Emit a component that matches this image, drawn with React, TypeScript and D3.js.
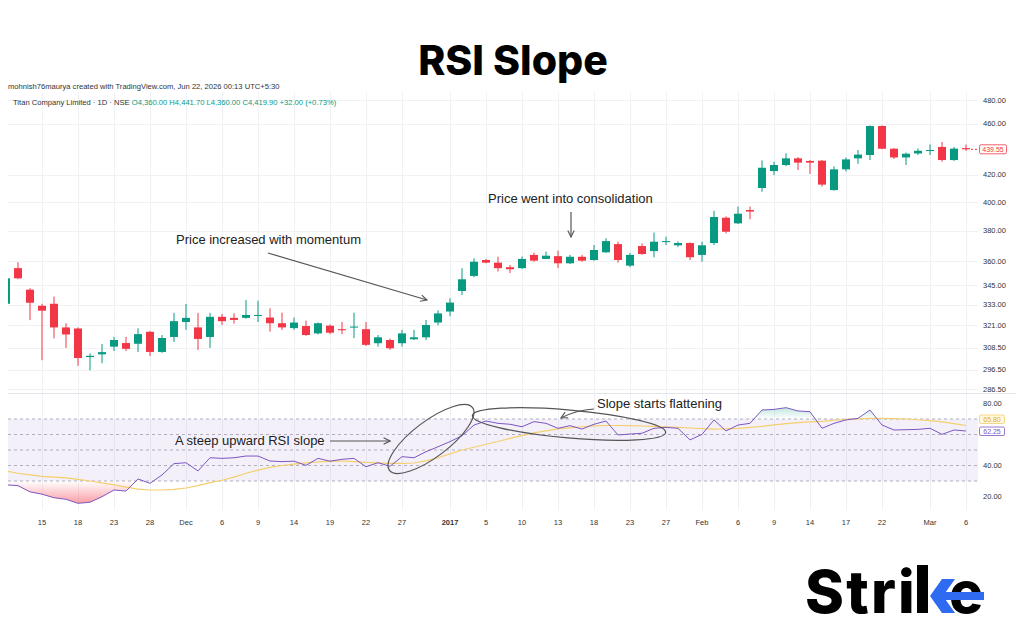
import React from "react";
import * as d3 from "d3";

// Trading sessions shown on the chart (NSE, daily)
const dates: string[] = [
  "2016-11-09", "2016-11-10", "2016-11-11", "2016-11-15", "2016-11-16", "2016-11-17", "2016-11-18",
  "2016-11-21", "2016-11-22", "2016-11-23", "2016-11-24", "2016-11-25", "2016-11-28", "2016-11-29",
  "2016-11-30", "2016-12-01", "2016-12-02", "2016-12-05", "2016-12-06", "2016-12-07", "2016-12-08",
  "2016-12-09", "2016-12-12", "2016-12-13", "2016-12-14", "2016-12-15", "2016-12-16", "2016-12-19",
  "2016-12-20", "2016-12-21", "2016-12-22", "2016-12-23", "2016-12-26", "2016-12-27", "2016-12-28",
  "2016-12-29", "2016-12-30", "2017-01-02", "2017-01-03", "2017-01-04", "2017-01-05", "2017-01-06",
  "2017-01-09", "2017-01-10", "2017-01-11", "2017-01-12", "2017-01-13", "2017-01-16", "2017-01-17",
  "2017-01-18", "2017-01-19", "2017-01-20", "2017-01-23", "2017-01-24", "2017-01-25", "2017-01-27",
  "2017-01-30", "2017-01-31", "2017-02-01", "2017-02-02", "2017-02-03", "2017-02-06", "2017-02-07",
  "2017-02-08", "2017-02-09", "2017-02-10", "2017-02-13", "2017-02-14", "2017-02-15", "2017-02-16",
  "2017-02-17", "2017-02-20", "2017-02-21", "2017-02-22", "2017-02-23", "2017-02-27", "2017-02-28",
  "2017-03-01", "2017-03-02", "2017-03-03", "2017-03-06",
];

const opens: number[] = [
  333.6, 355.5, 342.1, 332.4, 333.6, 319.8, 319.2, 303.3, 304.8, 309, 311, 310.6, 317.3, 306.1,
  314.4, 322.9, 319.8, 314.4, 325.9, 325.3, 325.3, 326.4, 325.5, 322.2, 319.4, 320.6, 316.4, 320.8,
  318.8, 319.7, 318.8, 310.9, 312.7, 310.9, 313.1, 314.2, 322.6, 329, 341.3, 350.6, 360.7, 359,
  356.1, 355.5, 364, 361.4, 363.2, 358.6, 362.8, 360.7, 365.7, 371.1, 357.1, 369.8, 366.5, 372.4,
  370.3, 371.8, 364, 371.8, 389, 385.1, 394.4, 410.2, 422.8, 427.4, 432.5, 430.5, 430.7, 408.7,
  424.1, 432.5, 435.1, 458.2, 440, 433.2, 436.3, 438.2, 441.4, 431.2, 440.5,
];
const highs: number[] = [
  349.6, 359.3, 343, 333.6, 337.9, 322.2, 319.8, 305.3, 310.5, 314.4, 314.4, 319.3, 317.8, 315.5,
  328.2, 333.5, 328.2, 328.2, 327.6, 328, 335.9, 335.4, 330.9, 328.3, 325.5, 323.7, 322.6, 321.5,
  322.9, 328.3, 322.9, 315.5, 313.5, 318.4, 318.4, 324.1, 329.7, 336.9, 355.4, 361.8, 361.4, 362.9,
  357.5, 362.9, 365.5, 366.2, 366.8, 364, 364, 370.5, 375, 372.7, 365.3, 371.6, 378.8, 376,
  372.8, 372.2, 372.7, 393.8, 389.9, 396.8, 396.8, 430.9, 429.9, 436.4, 433.5, 431.2, 431.2, 426.4,
  433.2, 439, 458.7, 458.7, 440.5, 437, 440.2, 443.4, 445.3, 441.4, 443.3,
];
const lows: number[] = [
  333, 348.6, 324, 301.6, 313.6, 308.3, 298.6, 296.2, 300, 306.6, 306.6, 306.1, 303.9, 305.6,
  311.6, 318.4, 307.2, 308.3, 321.2, 322, 324.8, 322.9, 317.4, 318.4, 318.4, 315, 315.8, 316,
  316, 313.7, 309.4, 309, 307.2, 309, 312.7, 312.7, 321, 326.2, 338.9, 349.8, 358.6, 353.4,
  352.4, 355, 359.6, 361.2, 355.5, 358.1, 359.6, 360.2, 365.3, 359, 356.1, 364, 362.5, 370.5,
  369.3, 360.7, 359.6, 370.5, 378.3, 384.7, 388, 407.5, 419.8, 426.4, 423.6, 420.6, 411.2, 408.2,
  422.5, 428.3, 431.2, 439.6, 432, 427.4, 435.1, 435.1, 429.9, 430.5, 438.3,
];
const closes: number[] = [
  349.1, 349.1, 334.2, 329.5, 319.8, 315.8, 302.8, 304, 306, 312.7, 307.8, 316, 306.1, 313.8,
  323.4, 325.3, 313.3, 325.9, 323.4, 324.1, 327, 327, 322.2, 319.8, 322.6, 315.5, 322.2, 316.8,
  318.2, 320.3, 310, 314.2, 308.1, 316.4, 314.2, 321.2, 327.9, 334.3, 348.5, 359.6, 359, 355.5,
  354.8, 361.4, 360.3, 363.5, 358.6, 362.8, 360.3, 367.2, 373.1, 360.7, 364, 364.6, 372.7, 373.1,
  371.8, 362.5, 370.3, 389.5, 379.4, 391.8, 393.3, 425.3, 427.4, 432.5, 429.2, 429.2, 412.7, 424.1,
  431.7, 435.4, 458.2, 440, 433.2, 436.1, 438.4, 439, 431.2, 440.1, 439.55,
];

// RSI (14) and its moving average
const rsi: number[] = [
  27.5, 27, 23, 21.5, 19.2, 18.2, 15.6, 16.3, 19.9, 24.2, 23.5, 31.3, 28.5, 33.9, 41.2, 41.8, 36.5,
  45, 44.6, 45, 46.1, 46.1, 42.9, 42.5, 42.8, 40.1, 44.6, 42.8, 44, 44.6, 39.2, 41.8, 39.5, 45.7,
  45, 48.9, 52.1, 55.4, 59.2, 66.1, 68.7, 67.2, 66.6, 65, 68.3, 67.2, 64, 65.7, 63.5, 66.6, 68.7,
  59.7, 60.3, 60.8, 64, 64.6, 64, 56.5, 60.1, 69.4, 62.3, 66.1, 67.2, 75.8, 76.2, 77.3, 75.2, 74.7,
  64, 67.2, 69.4, 70.4, 75.8, 66.1, 62.9, 63.1, 63.3, 64, 60.1, 62.9, 62.25,
];
const rsiMa: number[] = [
  36.5, 35, 34, 33, 32.5, 32, 31, 30, 28.8, 27.5, 26, 24.8, 24.2, 24.2, 24.6, 25.5, 27, 29, 30.5,
  32.5, 35, 37, 38.8, 40, 40.9, 41.7, 42.3, 42.7, 42.9, 42.5, 42, 41.7, 41.4, 41.4, 41.6, 43, 45,
  47.5, 50, 51.8, 53.7, 55.5, 57.5, 59.3, 61, 62.3, 63.6, 64.3, 65, 65.6, 65.8, 65.8, 65.7, 65.5,
  65.2, 65, 64.6, 64.2, 63.8, 63.5, 63.6, 64, 64.6, 65.3, 66.2, 67, 67.6, 68.1, 68.5, 69.2, 69.8,
  70.1, 70.4, 70.4, 70.3, 70, 69.5, 69, 68.2, 67, 65.8,
];

// Time axis labels: [session, label]
const timeTicks: [string, string][] = [
  ["2016-11-15", "15"], ["2016-11-18", "18"], ["2016-11-23", "23"], ["2016-11-28", "28"],
  ["2016-12-01", "Dec"], ["2016-12-06", "6"], ["2016-12-09", "9"], ["2016-12-14", "14"],
  ["2016-12-19", "19"], ["2016-12-22", "22"], ["2016-12-27", "27"], ["2017-01-02", "2017"],
  ["2017-01-05", "5"], ["2017-01-10", "10"], ["2017-01-13", "13"], ["2017-01-18", "18"],
  ["2017-01-23", "23"], ["2017-01-27", "27"], ["2017-02-01", "Feb"], ["2017-02-06", "6"],
  ["2017-02-09", "9"], ["2017-02-14", "14"], ["2017-02-17", "17"], ["2017-02-22", "22"],
  ["2017-03-01", "Mar"], ["2017-03-06", "6"],
];
const boldTimeLabels = ["2017"];

const priceTicks: number[] = [480, 460, 420, 400, 380, 360, 345, 333, 321, 308.5, 296.5, 286.5];
const rsiTicks: number[] = [80, 40, 20];
const rsiLevels: number[] = [70, 60, 50, 40, 30];
const lastPrice = 439.55;
const lastRsi = 62.25;
const lastRsiMa = 65.8;

const W = 1024;
const H = 640;
const LEFT = 8;
const RIGHT = 978;
const PRICE_TOP = 78;
const PRICE_BOTTOM = 392;
const RSI_TOP = 394;
const RSI_BOTTOM = 510;

const UP = "#089981";
const DOWN = "#f23645";
const RSI_COLOR = "#7e57c2";
const MA_COLOR = "#f5cf6e";
const ANNOT = "#555555";
const AXIS_FONT = "'Liberation Sans', Arial, sans-serif";
const NOTE_FONT = "'Liberation Sans', Arial, sans-serif";
const BRAND_FONT = "Inter, 'Open Sans', sans-serif";

export default function App() {
  const x = d3.scalePoint<string>().domain(dates).range([6, 966]);
  const yPrice = d3.scaleLog().domain([286.5, 480]).range([389, 100]);
  const yRsi = d3.scaleLinear().domain([30, 70]).range([481, 419]);

  const xi = (i: number) => x(dates[i]) as number;

  const rsiLine = d3.line<number>().x((_, i) => xi(i)).y((d) => yRsi(d))(rsi) || "";
  const maLine = d3.line<number>().x((_, i) => xi(i)).y((d) => yRsi(d))(rsiMa) || "";
  const lowArea =
    d3.area<number>().x((_, i) => xi(i)).y0(yRsi(30)).y1((d) => yRsi(d))(rsi) || "";
  const highArea =
    d3.area<number>().x((_, i) => xi(i)).y0(yRsi(70)).y1((d) => yRsi(d))(rsi) || "";

  const bodyW = 8;

  return (
    <div style={{ position: "absolute", left: 0, top: 0, width: W, height: H }}>
      <svg width={W} height={H} viewBox={`0 0 ${W} ${H}`} style={{ display: "block" }}>
        <defs>
          <clipPath id="pricePane">
            <rect x={LEFT} y={PRICE_TOP} width={RIGHT - LEFT} height={PRICE_BOTTOM - PRICE_TOP} />
          </clipPath>
          <clipPath id="rsiPane">
            <rect x={LEFT} y={RSI_TOP} width={RIGHT - LEFT} height={RSI_BOTTOM - RSI_TOP} />
          </clipPath>
          <clipPath id="belowLow">
            <rect x={LEFT} y={yRsi(30)} width={RIGHT - LEFT} height={RSI_BOTTOM - yRsi(30)} />
          </clipPath>
          <clipPath id="aboveHigh">
            <rect x={LEFT} y={RSI_TOP} width={RIGHT - LEFT} height={yRsi(70) - RSI_TOP} />
          </clipPath>
          <linearGradient id="lowGrad" gradientUnits="userSpaceOnUse" x1={0} y1={yRsi(30)} x2={0} y2={yRsi(0)}>
            <stop offset="0" stopColor={DOWN} stopOpacity={0} />
            <stop offset="1" stopColor={DOWN} stopOpacity={1} />
          </linearGradient>
          <linearGradient id="highGrad" gradientUnits="userSpaceOnUse" x1={0} y1={yRsi(70)} x2={0} y2={yRsi(100)}>
            <stop offset="0" stopColor={UP} stopOpacity={0} />
            <stop offset="1" stopColor={UP} stopOpacity={1} />
          </linearGradient>
          <marker id="arrowHead" viewBox="0 0 10 10" refX="9" refY="5" markerWidth="8" markerHeight="8"
            markerUnits="userSpaceOnUse" orient="auto">
            <path d="M1,1 L9,5 L1,9" fill="none" stroke={ANNOT} strokeWidth={1.4} />
          </marker>
        </defs>

        <rect x={0} y={0} width={W} height={H} fill="#ffffff" />

        {/* Title */}
        <text x={513} y={75} textAnchor="middle" fontFamily={BRAND_FONT}
          fontWeight={800} fontSize={41} fill="#000000">
          RSI Slope
        </text>

        {/* Grid */}
        <g stroke="#f0f1f4" strokeWidth={1}>
          {timeTicks.map(([d]) => (
            <line key={"vg" + d} x1={Math.round(x(d) as number) + 0.5} x2={Math.round(x(d) as number) + 0.5}
              y1={PRICE_TOP + 14} y2={RSI_BOTTOM} />
          ))}
          {priceTicks.map((p) => (
            <line key={"hg" + p} x1={LEFT} x2={RIGHT} y1={Math.round(yPrice(p)) + 0.5} y2={Math.round(yPrice(p)) + 0.5} />
          ))}
        </g>

        {/* Header lines */}
        <text x={8} y={89} fontFamily={AXIS_FONT} fontSize={7.6} fill="#333333">
          mohnish76maurya created with TradingView.com, Jun 22, 2026 00:13 UTC+5:30
        </text>
        <text x={13} y={105} fontFamily={AXIS_FONT} fontSize={7.6} fill="#333333">
          Titan Company Limited · 1D · NSE{"  "}
          <tspan fill={UP}>O4,360.00{"  "}H4,441.70{"  "}L4,360.00{"  "}C4,419.90{"  "}+32.00 (+0.73%)</tspan>
        </text>

        {/* Pane separator */}
        <line x1={LEFT} x2={RIGHT + 38} y1={393.5} y2={393.5} stroke="#e3e5ea" />

        {/* Candles */}
        <g clipPath="url(#pricePane)">
          {dates.map((d, i) => {
            const o = opens[i];
            const c = closes[i];
            const color = c >= o ? UP : DOWN;
            const cx = xi(i);
            const top = yPrice(Math.max(o, c));
            const bot = yPrice(Math.min(o, c));
            return (
              <g key={d}>
                <line x1={cx} x2={cx} y1={yPrice(highs[i])} y2={yPrice(lows[i])} stroke={color} strokeWidth={1} />
                <rect x={cx - bodyW / 2} y={top} width={bodyW} height={Math.max(1, bot - top)} fill={color} />
              </g>
            );
          })}
        </g>

        {/* Last price line and label */}
        <line x1={xi(dates.length - 1) + 5} x2={RIGHT} y1={yPrice(lastPrice)} y2={yPrice(lastPrice)}
          stroke={DOWN} strokeDasharray="2,2" strokeWidth={1} />
        <rect x={979.5} y={yPrice(lastPrice) - 4.5} width={27} height={9} rx={1.5} fill="#ffffff" stroke={DOWN} strokeWidth={0.8} />
        <text x={993} y={yPrice(lastPrice) + 2.6} textAnchor="middle" fontFamily={AXIS_FONT} fontSize={7} fill={DOWN}>
          {lastPrice.toFixed(2)}
        </text>

        {/* Price axis labels */}
        {priceTicks.map((p) => (
          <text key={"pt" + p} x={983} y={yPrice(p) + 2.6} fontFamily={AXIS_FONT} fontSize={7.5} fill="#333333">
            {p.toFixed(2)}
          </text>
        ))}

        {/* RSI pane */}
        <g clipPath="url(#rsiPane)">
          <rect x={LEFT} y={yRsi(70)} width={RIGHT - LEFT} height={yRsi(30) - yRsi(70)} fill="#7e57c2" fillOpacity={0.09} />
          {rsiLevels.map((v) => (
            <line key={"lv" + v} x1={LEFT} x2={RIGHT} y1={yRsi(v)} y2={yRsi(v)} stroke="#9a97a8"
              strokeOpacity={0.75} strokeDasharray="3,3" strokeWidth={1} />
          ))}
          <path d={lowArea} fill="url(#lowGrad)" clipPath="url(#belowLow)" />
          <path d={highArea} fill="url(#highGrad)" clipPath="url(#aboveHigh)" />
          <path d={maLine} fill="none" stroke={MA_COLOR} strokeWidth={1.2} />
          <path d={rsiLine} fill="none" stroke={RSI_COLOR} strokeWidth={1} />
        </g>

        {/* RSI axis labels */}
        {rsiTicks.map((v) => (
          <text key={"rt" + v} x={983} y={yRsi(v) + 2.6} fontFamily={AXIS_FONT} fontSize={7.5} fill="#333333">
            {v.toFixed(2)}
          </text>
        ))}
        <rect x={979.5} y={415} width={25} height={8.5} rx={1.5} fill="#fff8dc" stroke={MA_COLOR} strokeWidth={0.8} />
        <text x={992} y={421.6} textAnchor="middle" fontFamily={AXIS_FONT} fontSize={7} fill="#e0b030">
          {lastRsiMa.toFixed(2)}
        </text>
        <rect x={979.5} y={427} width={25} height={8.5} rx={1.5} fill="#ffffff" stroke={RSI_COLOR} strokeWidth={0.8} />
        <text x={992} y={433.6} textAnchor="middle" fontFamily={AXIS_FONT} fontSize={7} fill={RSI_COLOR}>
          {lastRsi.toFixed(2)}
        </text>

        {/* Time axis */}
        {timeTicks.map(([d, label]) => (
          <text key={"tt" + d} x={x(d) as number} y={525} textAnchor="middle" fontFamily={AXIS_FONT}
            fontSize={7.5} fontWeight={boldTimeLabels.includes(label) ? 700 : 400} fill="#333333">
            {label}
          </text>
        ))}

        {/* Annotations */}
        <g fontFamily={NOTE_FONT} fontSize={13} fill="#222222">
          <text x={176} y={244}>Price increased with momentum</text>
          <text x={488} y={203}>Price went into consolidation</text>
          <text x={175} y={445}>A steep upward RSI slope</text>
          <text x={597} y={408}>Slope starts flattening</text>
        </g>
        <g fill="none" stroke={ANNOT} strokeWidth={1.2}>
          <line x1={268} y1={253} x2={427} y2={300} markerEnd="url(#arrowHead)" />
          <line x1={571} y1={212} x2={571} y2={237} markerEnd="url(#arrowHead)" />
          <line x1={330} y1={441} x2={390} y2={441} markerEnd="url(#arrowHead)" />
          <path d="M594,409 Q576,410 561,418" markerEnd="url(#arrowHead)" />
          <ellipse cx={431} cy={439} rx={52} ry={18} transform="rotate(-37 431 439)" />
          <ellipse cx={569} cy={424} rx={97} ry={14} transform="rotate(5 569 424)" />
        </g>

        {/* Brand mark */}
        <g>
          <text x={805} y={613} fontFamily={BRAND_FONT} fontWeight={800} fontSize={59}
            letterSpacing={2.2} fill="#000000">
            Stri
          </text>
          <rect x={917} y={565} width={11} height={48} fill="#000000" />
          <text x={949} y={613} fontFamily={BRAND_FONT} fontWeight={800} fontSize={57} fill="#000000">
            e
          </text>
          <polygon points="955,579 942,579 930,596 942,613 955,613 943,596" fill="#2f6bf0" />
          <rect x={936} y={592} width={48} height={8} fill="#2f6bf0" />
        </g>
      </svg>
    </div>
  );
}
